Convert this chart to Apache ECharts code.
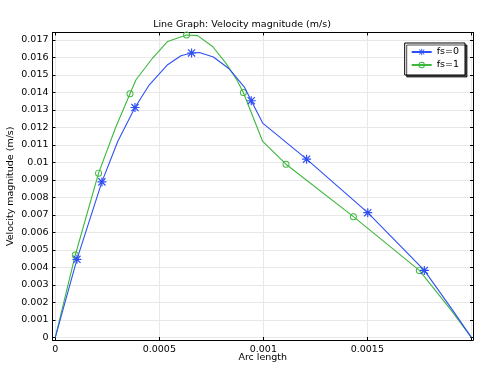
<!DOCTYPE html>
<html><head><meta charset="utf-8">
<script src="https://cdn.jsdelivr.net/npm/echarts@6/dist/echarts.min.js"></script>
<style>html,body{margin:0;padding:0;background:#fff}#c{width:484px;height:368px}</style>
</head><body><div id="c"></div>
<script>
const seriesNames = ['fs=0', 'fs=1'];
const xs0 = [0, 0.000104, 0.000224, 0.000300, 0.000383, 0.000452, 0.00054, 0.000604, 0.000655, 0.000692, 0.00076, 0.000837, 0.000909, 0.000942, 0.000997, 0.001208, 0.001502, 0.001774, 0.00191, 0.002];
const ys0 = [0, 0.00446, 0.00889, 0.0112, 0.01314, 0.01444, 0.01559, 0.0161, 0.01626, 0.01629, 0.01603, 0.01534, 0.01431, 0.01353, 0.01225, 0.01019, 0.00713, 0.00383, 0.00156, 0];
const marks0 = [1, 2, 4, 8, 13, 15, 16, 17];
const xs1 = [0, 0.0000962, 0.000208, 0.00029, 0.000359, 0.000388, 0.000468, 0.00054, 0.000631, 0.000684, 0.000756, 0.00082, 0.000872, 0.000904, 0.000997, 0.001109, 0.001433, 0.00175, 0.0019, 0.002];
const ys1 = [0, 0.00471, 0.00939, 0.0120, 0.01393, 0.01473, 0.01597, 0.01692, 0.01729, 0.01725, 0.01663, 0.01568, 0.01473, 0.0140, 0.0112, 0.0099, 0.0069, 0.00383, 0.0016, 0];
const marks1 = [1, 2, 4, 8, 13, 15, 16, 17];

const FONT = 'DejaVu Sans';
const FS = 9.5;
const BLUE = '#2f4ff5', GREEN = '#3cb83c';
const ASTER = 'path://M0 8.7H20V11.3H0Z M8.7 0H11.3V20H8.7Z M1.1 3L3 1.1L18.9 17L17 18.9Z M17 1.1L18.9 3L3 18.9L1.1 17Z';
const RING = 'path://M10 0A10 10 0 1 1 10 20A10 10 0 1 1 10 0Z M10 2.8A7.2 7.2 0 1 0 10 17.2A7.2 7.2 0 1 0 10 2.8Z';

function build(xs, ys, marks) {
  return xs.map((x, i) => marks.includes(i) ? {value: [x, ys[i]]} : {value: [x, ys[i]], symbol: 'none'});
}
function fmt(step, lo, hi) {
  return v => {
    if (v < lo || v > hi) return '';
    const k = Math.round(v / step);
    if (Math.abs(v - k * step) > step * 1e-3) return '';
    return String(+(k * step).toFixed(6));
  };
}
const common = {type: 'value', axisLine: {onZero: false, lineStyle: {color: '#000', width: 1}},
  axisTick: {inside: true, length: 3, lineStyle: {color: '#000'}}};

const chart = echarts.init(document.getElementById('c'), null, {renderer: 'canvas'});
chart.setOption({
  animation: false,
  title: {text: 'Line Graph: Velocity magnitude (m/s)', left: 'center', top: 15,
    textStyle: {fontFamily: FONT, fontSize: FS, fontWeight: 'normal', color: '#000'}},
  grid: {left: 52.5, right: 11, top: 32.5, bottom: 28, outerBoundsMode: 'none', containLabel: false},
  legend: {right: 19, top: 43, orient: 'vertical', itemGap: 3, itemWidth: 20, itemHeight: 8,
    padding: [4, 6, 5, 6], borderColor: '#000', borderWidth: 1, backgroundColor: '#fff',
    shadowColor: 'rgba(0,0,0,0.7)', shadowOffsetX: 2, shadowOffsetY: 2, shadowBlur: 0,
    textStyle: {fontFamily: FONT, fontSize: FS, color: '#000'}, data: seriesNames},
  xAxis: [
    Object.assign({}, common, {min: -0.0000135, max: 0.002008, minInterval: 0.0005, maxInterval: 0.0005,
      name: 'Arc length', nameLocation: 'middle', nameGap: 13, nameMoveOverlap: false,
      nameTextStyle: {fontFamily: FONT, fontSize: FS, color: '#000'},
      axisLabel: {fontFamily: FONT, fontSize: FS, color: '#000', margin: 5, formatter: fmt(0.0005, -1e-9, 0.0019)},
      splitLine: {show: true, lineStyle: {color: '#e8e8e8', width: 1}}}),
    Object.assign({}, common, {position: 'top', min: -0.0000135, max: 0.002008, minInterval: 0.0005, maxInterval: 0.0005,
      axisLabel: {show: false}, splitLine: {show: false}})
  ],
  yAxis: [
    Object.assign({}, common, {min: -0.00015, max: 0.01743, minInterval: 0.001, maxInterval: 0.001,
      name: 'Velocity magnitude (m/s)', nameLocation: 'middle', nameGap: 37, nameMoveOverlap: false,
      nameTextStyle: {fontFamily: FONT, fontSize: FS, color: '#000'},
      axisLabel: {fontFamily: FONT, fontSize: FS, color: '#000', margin: 4, formatter: fmt(0.001, -1e-9, 0.0171)},
      splitLine: {show: true, lineStyle: {color: '#e8e8e8', width: 1}}}),
    Object.assign({}, common, {position: 'right', min: -0.00015, max: 0.01743, minInterval: 0.001, maxInterval: 0.001,
      axisLabel: {show: false}, splitLine: {show: false}})
  ],
  series: [
    {name: seriesNames[0], type: 'line', data: build(xs0, ys0, marks0), symbol: ASTER, symbolSize: 9,
      showSymbol: true, showAllSymbol: true, color: BLUE, lineStyle: {width: 1.1, color: BLUE},
      itemStyle: {color: BLUE}, z: 3},
    {name: seriesNames[1], type: 'line', data: build(xs1, ys1, marks1), symbol: RING, symbolSize: 7,
      showSymbol: true, showAllSymbol: true, color: GREEN, lineStyle: {width: 1.1, color: GREEN},
      itemStyle: {color: GREEN}, z: 2}
  ]
});
</script></body></html>
